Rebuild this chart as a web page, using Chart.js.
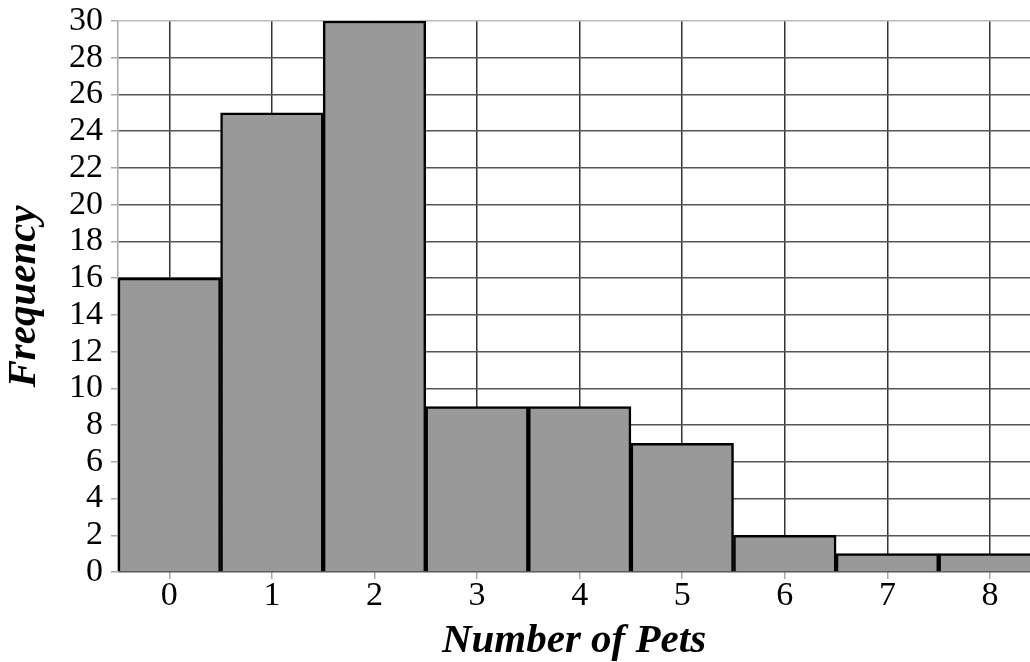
<!DOCTYPE html>
<html>
<head>
<meta charset="utf-8">
<script src="https://cdn.jsdelivr.net/npm/chart.js@4.4.0/dist/chart.umd.min.js"></script>
<style>
  body { margin: 0; background: #fff; }
  canvas { display: block; }
</style>
</head>
<body>
<canvas id="myChart" width="1030" height="662"></canvas>
<script>
// Number of pets per household
const pets = [0, 1, 2, 3, 4, 5, 6, 7, 8]
const frequency = [16, 25, 30, 9, 9, 7, 2, 1, 1]
const yTicks = [0, 2, 4, 6, 8, 10, 12, 14, 16, 18, 20, 22, 24, 26, 28, 30]

const points = pets.map(function (p, i) { return { x: p, y: frequency[i] } })

const serif = '"Liberation Serif", "Times New Roman", serif'

const chart = new Chart(document.getElementById('myChart'), {
    type: 'bar',
    data: {
        datasets: [
            {
                label: 'Frequency',
                data: points,
                backgroundColor: '#999999',
                borderColor: '#000000',
                borderWidth: 2.5,
                barPercentage: 1,
                categoryPercentage: 1
            }
        ]
    },
    options: {
        responsive: false,
        animation: false,
        devicePixelRatio: 1,
        layout: { padding: { top: 21, right: 0, left: 0, bottom: 0 } },
        plugins: {
            legend: { display: false },
            tooltip: { enabled: false }
        },
        scales: {
            x: {
                type: 'linear',
                offset: false,
                min: -0.5,
                max: 8.39,
                afterFit: function (scale) {
                    scale.height = 90
                    scale.paddingLeft = 0
                    scale.paddingRight = 0
                },
                afterBuildTicks: function (scale) {
                    scale.ticks = pets.map(function (v) { return { value: v } })
                },
                ticks: {
                    autoSkip: false,
                    color: '#000',
                    padding: -3,
                    font: { family: serif, size: 34 }
                },
                grid: {
                    offset: false,
                    color: '#333',
                    lineWidth: 1.5,
                    tickColor: '#aaa',
                    tickLength: 7
                },
                border: { display: false },
                title: {
                    display: true,
                    text: 'Number of Pets',
                    color: '#000',
                    padding: { top: 0, bottom: -4 },
                    font: { family: serif, size: 41, style: 'italic', weight: 'bold' }
                }
            },
            y: {
                min: 0,
                max: 30,
                afterFit: function (scale) {
                    scale.width = 118
                    scale.paddingTop = 0
                    scale.paddingBottom = 0
                },
                afterBuildTicks: function (scale) {
                    scale.ticks = yTicks.map(function (v) { return { value: v } })
                },
                ticks: {
                    autoSkip: false,
                    color: '#000',
                    padding: 8,
                    font: { family: serif, size: 34 }
                },
                grid: {
                    color: function (ctx) { return ctx.tick && ctx.tick.value === 30 ? '#bbb' : '#555' },
                    lineWidth: 1.5,
                    tickColor: '#aaa',
                    tickLength: 7
                },
                border: { display: true, color: '#aaa', width: 1.5 },
                title: {
                    display: true,
                    text: 'Frequency',
                    color: '#000',
                    padding: { top: 0, bottom: 0 },
                    font: { family: serif, size: 41, style: 'italic', weight: 'bold' }
                }
            }
        }
    }
})
</script>
</body>
</html>
